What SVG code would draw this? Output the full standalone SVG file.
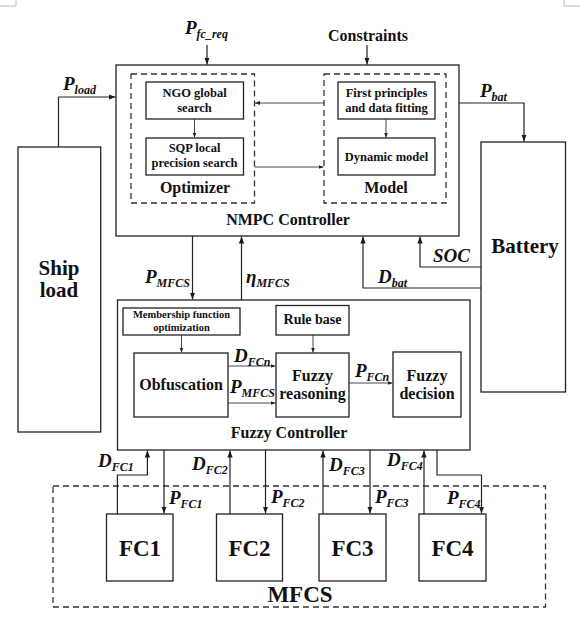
<svg xmlns="http://www.w3.org/2000/svg" width="580" height="623" viewBox="0 0 580 623">
<defs>
<marker id="ah" viewBox="0 0 10 10" refX="10" refY="5" markerWidth="7" markerHeight="7" markerUnits="userSpaceOnUse" orient="auto"><path d="M0,1.2 L10,5 L0,8.8 z" fill="#1a1a1a"/></marker>
<marker id="ahs" viewBox="0 0 10 10" refX="10" refY="5" markerWidth="5" markerHeight="5" markerUnits="userSpaceOnUse" orient="auto"><path d="M0,1 L10,5 L0,9 z" fill="#222"/></marker>
</defs>
<style>
.box{fill:#fff;stroke:#222;stroke-width:1.3}
.dash{fill:none;stroke:#333;stroke-width:1.3;stroke-dasharray:6 4}
.ln{fill:none;stroke:#222;stroke-width:1.2;marker-end:url(#ah)}
.thin{fill:none;stroke:#333;stroke-width:0.9;marker-end:url(#ahs)}
.crop{fill:none;stroke:#bbb;stroke-width:1}
text{font-family:"Liberation Serif","Times New Roman",serif;font-weight:bold;fill:#111}
.c{text-anchor:middle}
.m{font-style:italic;font-size:19px}
.s{font-size:12px}
</style>
<rect width="580" height="623" fill="#fff"/>
<path class="crop" d="M16,0 V6 H0 M564,0 V6 H580"/>

<g id="mfcs">
<rect class="dash" x="53" y="486" width="492.5" height="121"/>
<text class="c" x="300" y="602" font-size="23">MFCS</text>
</g>

<g id="nmpc">
<rect class="box" x="116" y="65" width="343" height="171"/>
<text class="c" x="288" y="225" font-size="16">NMPC Controller</text>
</g>
<g id="optimizer">
<rect class="dash" x="131" y="74" width="123.5" height="129"/>
<text class="c" x="195" y="193" font-size="16">Optimizer</text>
</g>
<g id="model">
<rect class="dash" x="324" y="74" width="122" height="129"/>
<text class="c" x="386" y="193" font-size="16">Model</text>
</g>
<g id="ngo">
<rect class="box" x="146" y="82" width="97.5" height="37"/>
<text class="c" x="194.5" y="97" font-size="12.5">NGO global</text>
<text class="c" x="194.5" y="112" font-size="12.5">search</text>
</g>
<g id="sqp">
<rect class="box" x="146" y="138" width="97.5" height="37"/>
<text class="c" x="194.5" y="152" font-size="12.5">SQP local</text>
<text class="c" x="194.5" y="167" font-size="12.5">precision search</text>
</g>
<g id="firstprinciples">
<rect class="box" x="338" y="82" width="97" height="37"/>
<text class="c" x="386.5" y="97" font-size="12.5">First principles</text>
<text class="c" x="386.5" y="112" font-size="12.5">and data fitting</text>
</g>
<g id="dynamic">
<rect class="box" x="338" y="138" width="97" height="37"/>
<text class="c" x="386.5" y="161" font-size="12.5">Dynamic model</text>
</g>

<g id="shipload">
<rect class="box" x="18" y="147" width="82.7" height="285"/>
<text class="c" x="59" y="275" font-size="21">Ship</text>
<text class="c" x="59" y="297" font-size="21">load</text>
</g>
<g id="battery">
<rect class="box" x="481" y="142" width="84.5" height="250"/>
<text class="c" x="525" y="253" font-size="21">Battery</text>
</g>

<g id="fuzzy">
<rect class="box" x="117.5" y="300" width="352.5" height="150"/>
<text class="c" x="289" y="438" font-size="16">Fuzzy Controller</text>
</g>
<g id="membership">
<rect class="box" x="123" y="308" width="117" height="27"/>
<text class="c" x="181.5" y="318" font-size="10.5">Membership function</text>
<text class="c" x="181.5" y="331" font-size="10.5">optimization</text>
</g>
<g id="rulebase">
<rect class="box" x="276" y="305.5" width="73" height="29.5"/>
<text class="c" x="312.5" y="324" font-size="14">Rule base</text>
</g>
<g id="obfuscation">
<rect class="box" x="134" y="353" width="94" height="64"/>
<text class="c" x="181" y="390" font-size="16">Obfuscation</text>
</g>
<g id="reasoning">
<rect class="box" x="276" y="353" width="73" height="64"/>
<text class="c" x="312.5" y="381" font-size="16">Fuzzy</text>
<text class="c" x="312.5" y="399" font-size="16">reasoning</text>
</g>
<g id="decision">
<rect class="box" x="393" y="352" width="68" height="65"/>
<text class="c" x="427" y="381" font-size="16">Fuzzy</text>
<text class="c" x="427" y="399" font-size="16">decision</text>
</g>

<g id="fc1"><rect class="box" x="106.5" y="514" width="66.5" height="67"/><text class="c" x="140" y="556" font-size="23">FC1</text></g>
<g id="fc2"><rect class="box" x="216.5" y="514" width="66" height="67"/><text class="c" x="249.5" y="556" font-size="23">FC2</text></g>
<g id="fc3"><rect class="box" x="319" y="514" width="67" height="67"/><text class="c" x="352.5" y="556" font-size="23">FC3</text></g>
<g id="fc4"><rect class="box" x="419" y="514" width="67" height="67"/><text class="c" x="452.5" y="556" font-size="23">FC4</text></g>

<g id="connectors">
<path class="ln" d="M207,45 V64.5"/>
<path class="ln" d="M367,45 V64.5"/>
<path class="ln" d="M58.5,147 V97 H115.5"/>
<path class="ln" d="M459,103 H524 V141.5"/>
<path class="ln" d="M481,267 H420 V236.5"/>
<path class="ln" d="M481,288 H363 V236.5"/>
<path class="ln" d="M192.5,236 V299.5"/>
<path class="ln" d="M241.5,300 V236.5"/>
<path class="thin" d="M324,103 H255"/>
<path class="thin" d="M254.5,167 H323.5"/>
<path class="thin" d="M194.5,119 V137.5"/>
<path class="thin" d="M386,119 V137.5"/>
<path class="thin" d="M181.5,335 V352.5"/>
<path class="thin" d="M313,335 V352.5"/>
<path class="thin" d="M228,366 H275.5"/>
<path class="thin" d="M228,403 H275.5"/>
<path class="thin" d="M349,383 H392.5"/>
<path class="ln" d="M117.4,514 V475 H147.4 V450.5"/>
<path class="ln" d="M164,450 V513.5"/>
<path class="ln" d="M230,514 V450.5"/>
<path class="ln" d="M265.5,450 V513.5"/>
<path class="ln" d="M323,514 V450.5"/>
<path class="ln" d="M370,450 V513.5"/>
<path class="ln" d="M424,514 V450.5"/>
<path class="ln" d="M437,450 V475 H481.5 V513.5"/>
</g>

<g id="labels">
<text x="185" y="34" class="m">P<tspan class="s" dy="4">fc_req</tspan></text>
<text class="c" x="368" y="41" font-size="16">Constraints</text>
<text x="63" y="90" class="m">P<tspan class="s" dy="4">load</tspan></text>
<text x="480" y="97" class="m">P<tspan class="s" dy="4">bat</tspan></text>
<text x="433" y="262" class="m">SOC</text>
<text x="378" y="283" class="m">D<tspan class="s" dy="4">bat</tspan></text>
<text x="145" y="283" class="m">P<tspan class="s" dy="4">MFCS</tspan></text>
<text x="246" y="283" class="m">η<tspan class="s" dy="4">MFCS</tspan></text>
<text x="234" y="362" class="m">D<tspan class="s" dy="4">FCn</tspan></text>
<text x="230" y="393" class="m">P<tspan class="s" dy="4">MFCS</tspan></text>
<text x="355" y="377" class="m">P<tspan class="s" dy="4">FCn</tspan></text>
<text x="98" y="467" class="m">D<tspan class="s" dy="4">FC1</tspan></text>
<text x="169" y="504" class="m">P<tspan class="s" dy="4">FC1</tspan></text>
<text x="192" y="470" class="m">D<tspan class="s" dy="4">FC2</tspan></text>
<text x="271" y="503" class="m">P<tspan class="s" dy="4">FC2</tspan></text>
<text x="329" y="471" class="m">D<tspan class="s" dy="4">FC3</tspan></text>
<text x="375" y="503" class="m">P<tspan class="s" dy="4">FC3</tspan></text>
<text x="387" y="466" class="m">D<tspan class="s" dy="4">FC4</tspan></text>
<text x="447" y="504" class="m">P<tspan class="s" dy="4">FC4</tspan></text>
</g>
</svg>
